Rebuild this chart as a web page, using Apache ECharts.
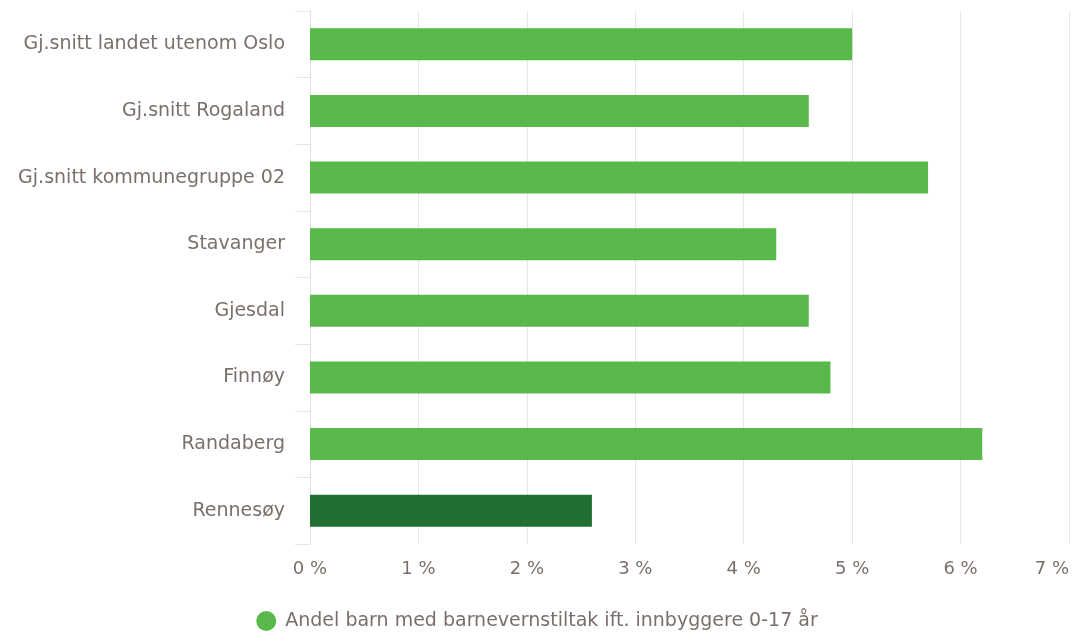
<!DOCTYPE html>
<html>
<head>
<meta charset="utf-8">
<script src="https://cdn.jsdelivr.net/npm/echarts@6/dist/echarts.min.js"></script>
<style>html,body{margin:0;padding:0;background:#fff}#c{width:1074px;height:637px}</style>
</head>
<body>
<div id="c"></div>
<script>
var categories = ["Gj.snitt landet utenom Oslo","Gj.snitt Rogaland","Gj.snitt kommunegruppe 02","Stavanger","Gjesdal","Finnøy","Randaberg","Rennesøy"];
var values = [5.0, 4.6, 5.7, 4.3, 4.6, 4.8, 6.2, 2.6];
var highlight = "Rennesøy";
var seriesName = "Andel barn med barnevernstiltak ift. innbyggere 0-17 år";
var tickValues = [0,1,2,3,4,5,6,7];

var txt = "#7a706b";
var font = "'DejaVu Sans', sans-serif";
var chart = echarts.init(document.getElementById('c'));
chart.setOption({
  animation: false,
  textStyle: {fontFamily: font},
  grid: {left: 310, right: 5, top: 11, bottom: 93, outerBoundsMode: 'none', containLabel: false},
  legend: {
    bottom: 1, left: 'center', icon: 'circle', itemWidth: 20, itemHeight: 20, itemGap: 4,
    textStyle: {color: txt, fontSize: 19, fontFamily: font, padding: [0, 0, 0, 4]},
    data: [{name: seriesName, itemStyle: {color: '#58b94a'}}]
  },
  xAxis: {
    type: 'value', min: 0, max: 7, interval: 1,
    axisLabel: {color: txt, fontSize: 18, margin: 16, alignMaxLabel: 'right', formatter: function(v){return v + ' %';}, fontFamily: font},
    axisLine: {show: false}, axisTick: {show: false},
    splitLine: {show: true, lineStyle: {color: '#e6e6e6', width: 1}}
  },
  yAxis: {
    type: 'category', inverse: true, data: categories,
    axisLabel: {color: txt, fontSize: 19, margin: 25, fontFamily: font, padding: [5, 0, 0, 0]},
    axisLine: {show: true, lineStyle: {color: '#e0e0e0'}},
    axisTick: {show: true, length: 15, lineStyle: {color: '#e6e6e6'}}
  },
  series: [{
    name: seriesName, type: 'bar', barWidth: '48%',
    itemStyle: {color: '#58b94a'},
    data: values.map(function(v, i){
      return categories[i] === highlight ? {value: v, itemStyle: {color: '#217031'}} : v;
    })
  }]
});
</script>
</body>
</html>
